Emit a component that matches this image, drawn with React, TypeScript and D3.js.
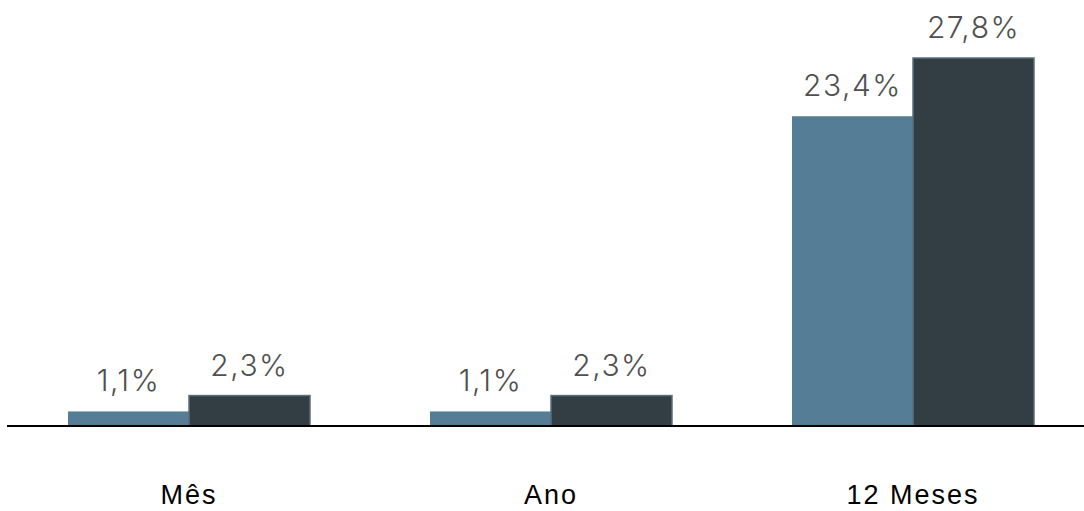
import React from "react";
import * as d3 from "d3";

const categories = ["Mês", "Ano", "12 Meses"];
const seriesKeys = ["a", "b"];
const seriesA = [1.1, 1.1, 23.4];
const seriesB = [2.3, 2.3, 27.8];

const W = 1084;
const H = 511;
const baseY = 426;
const topY = 58;

const colors: Record<string, string> = { a: "#557d96", b: "#323d44" };

const fmt = (v: number) => v.toFixed(1).replace(".", ",") + "%";

export default function App() {
  const x0 = d3.scaleBand<string>().domain(categories).range([8, 1094]).padding(0);
  const x1 = d3
    .scaleBand<string>()
    .domain(seriesKeys)
    .range([60, 302])
    .padding(0);
  const maxV = d3.max(seriesB) as number;
  const y = d3.scaleLinear().domain([0, maxV]).range([baseY, topY]);

  const rows = categories.map((c, i) => ({ c, a: seriesA[i], b: seriesB[i] }));

  return (
    <svg
      width={W}
      height={H}
      style={{ position: "absolute", left: 0, top: 0, background: "#fff" }}
    >
      {rows.map((r) => (
        <g key={r.c} transform={`translate(${x0(r.c)},0)`}>
          {seriesKeys.map((k) => {
            const v = (r as any)[k] as number;
            const bx = x1(k) as number;
            const bw = x1.bandwidth();
            return (
              <g key={k}>
                <rect
                  x={bx}
                  y={y(v)}
                  width={bw}
                  height={baseY - y(v)}
                  fill={colors[k]}
                  stroke={k === "b" ? "#5b6f7c" : "none"}
                  strokeWidth={k === "b" ? 1.5 : 0}
                />
                <text
                  x={bx + bw / 2}
                  y={y(v) - 20}
                  textAnchor="middle"
                  fontFamily="Inter, 'Noto Sans', sans-serif"
                  fontWeight={300}
                  fontSize={30}
                  letterSpacing={1.5}
                  fill="#505050"
                >
                  {fmt(v)}
                </text>
              </g>
            );
          })}
          <text
            x={x0.bandwidth() / 2}
            y={504}
            textAnchor="middle"
            fontFamily="'Liberation Sans', Arial, sans-serif"
            fontSize={27}
            letterSpacing={2}
            fill="#000"
          >
            {r.c}
          </text>
        </g>
      ))}
      <line x1={7} x2={W} y1={baseY} y2={baseY} stroke="#000" strokeWidth={2} />
    </svg>
  );
}
